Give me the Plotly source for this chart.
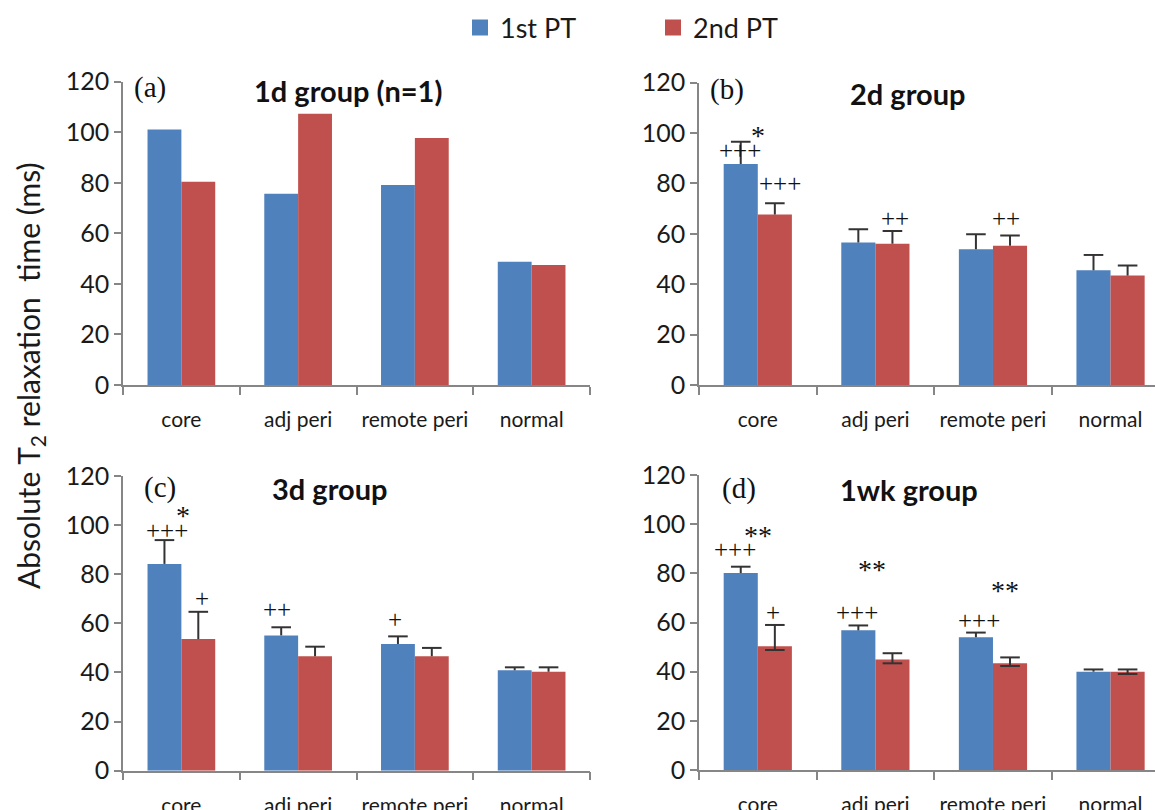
import plotly.graph_objects as go

# ---- data -------------------------------------------------------------
categories = ["core", "adj peri", "remote peri", "normal"]
series_names = ["1st PT", "2nd PT"]

# (a) 1d group, single animal, no error bars
d1_first = [101.1, 75.7, 79.1, 48.8]
d1_second = [80.4, 107.3, 97.7, 47.5]

# (b) 2d group
d2_first = [87.7, 56.5, 53.9, 45.5]
d2_first_sd = [8.8, 5.3, 5.9, 6.1]
d2_second = [67.6, 56.0, 55.2, 43.4]
d2_second_sd = [4.5, 5.1, 4.1, 4.0]

# (c) 3d group
d3_first = [84.2, 55.1, 51.6, 40.9]
d3_first_sd = [9.7, 3.3, 3.1, 1.2]
d3_second = [53.6, 46.6, 46.6, 40.3]
d3_second_sd = [11.1, 3.9, 3.4, 1.8]

# (d) 1wk group
wk1_first = [80.1, 56.8, 54.0, 40.0]
wk1_first_sd = [2.6, 2.0, 1.9, 0.9]
wk1_second = [50.3, 44.9, 43.4, 40.0]
wk1_second_sd = [8.7, 2.6, 2.4, 0.9]
wk1_second_sd_low = [1.5, 1.5, 1.1, 0.95]

# significance marks: (category position, value, label)
marks_b = [(0.0, 99.0, "*"), (-0.15, 93.0, "+++"), (0.19, 80.0, "+++"),
           (1.17, 66.0, "++"), (2.11, 66.0, "++")]
marks_c = [(0.01, 104.0, "*"), (-0.12, 98.0, "+++"), (0.18, 70.0, "+"),
           (0.82, 65.7, "++"), (1.83, 61.4, "+")]
marks_d = [(0.0, 95.5, "**"), (-0.19, 89.5, "+++"), (0.13, 64.2, "+"),
           (0.97, 81.5, "**"), (0.84, 64.2, "+++"),
           (2.1, 73.0, "**"), (1.88, 60.9, "+++")]

panel_letters = ["(a)", "(b)", "(c)", "(d)"]
panel_titles = ["1d group (n=1)", "2d group", "3d group", "1wk group"]

# ---- style ------------------------------------------------------------
BLUE = "#4F81BD"
RED = "#C0504D"
AXIS = "#868686"
ERR = "#333333"
TXT = "#1a1a1a"
SANS = "Lato"
SERIF = "Liberation Serif"
W, H = 1155, 810

BAR_W = 0.29
OFFSET = BAR_W / 2

panels = [
    dict(first=d1_first, second=d1_second, first_sd=None, second_sd=None,
         second_low=None, marks=[],
         xdom=(123, 590), xmax=3.5, ydom=(385, 81.7),
         letter=(150, 87.5), title=(348, 90)),
    dict(first=d2_first, second=d2_second, first_sd=d2_first_sd,
         second_sd=d2_second_sd, second_low=None, marks=marks_b,
         xdom=(699, 1155), xmax=3.378, ydom=(385, 82.5),
         letter=(727, 89.5), title=(908, 93)),
    dict(first=d3_first, second=d3_second, first_sd=d3_first_sd,
         second_sd=d3_second_sd, second_low=None, marks=marks_c,
         xdom=(123, 590), xmax=3.5, ydom=(770.7, 476),
         letter=(160, 487.5), title=(329.5, 488)),
    dict(first=wk1_first, second=wk1_second, first_sd=wk1_first_sd,
         second_sd=wk1_second_sd, second_low=wk1_second_sd_low, marks=marks_d,
         xdom=(699, 1155), xmax=3.378, ydom=(770, 475),
         letter=(738.5, 488.5), title=(908.5, 489)),
]

fig = go.Figure()
annotations = []
layout_axes = {}

for i, p in enumerate(panels):
    sfx = "" if i == 0 else str(i + 1)
    xref, yref = "x" + sfx, "y" + sfx
    idx = list(range(len(categories)))

    for vals, sd, low, color, shift in (
        (p["first"], p["first_sd"], None, BLUE, -OFFSET),
        (p["second"], p["second_sd"], p["second_low"], RED, OFFSET),
    ):
        xs = [k + shift for k in idx]
        err = None
        if sd is not None:
            err = dict(type="data", array=sd,
                       arrayminus=low if low is not None else [0] * len(sd),
                       symmetric=False, width=0, thickness=2, color=ERR)
        fig.add_trace(go.Bar(
            x=xs, y=vals, width=BAR_W, marker=dict(color=color, line=dict(width=0)),
            error_y=err, xaxis=xref, yaxis=yref, showlegend=False,
            hoverinfo="skip"))
        if sd is not None:
            cap_x = list(xs)
            cap_y = [v + e for v, e in zip(vals, sd)]
            if low is not None:
                cap_x += xs
                cap_y += [v - e for v, e in zip(vals, low)]
            fig.add_trace(go.Scatter(
                x=cap_x, y=cap_y, mode="markers",
                marker=dict(symbol="line-ew", size=14, color=ERR,
                            line=dict(width=2, color=ERR)),
                xaxis=xref, yaxis=yref, showlegend=False, hoverinfo="skip"))

    x0, x1 = p["xdom"]
    yb, yt = p["ydom"]
    layout_axes["xaxis" + sfx] = dict(
        domain=[x0 / W, x1 / W], range=[-0.5, p["xmax"]], anchor=yref,
        tickmode="array", tickvals=idx, ticktext=categories, ticks="",
        ticklabelstandoff=15, tickfont=dict(family=SANS, size=21, color=TXT),
        showline=True, linecolor=AXIS, linewidth=1.5, showgrid=False,
        zeroline=False, fixedrange=True,
        minor=dict(tickmode="linear", tick0=-0.5, dtick=1, ticks="outside",
                   ticklen=8, tickwidth=1.5, tickcolor=AXIS, showgrid=False))
    layout_axes["yaxis" + sfx] = dict(
        domain=[1 - yb / H, 1 - yt / H], range=[0, 120], anchor=xref,
        tickmode="linear", tick0=0, dtick=20, ticks="outside", ticklen=7,
        tickwidth=1.5, tickcolor=AXIS, showline=True, linecolor=AXIS,
        linewidth=1.5, showgrid=False, zeroline=False, fixedrange=True,
        tickfont=dict(family=SANS, size=25, color=TXT))

    for mx, my, mt in p["marks"]:
        annotations.append(dict(
            x=mx, y=my, xref=xref, yref=yref, text=mt, showarrow=False,
            xanchor="center", yanchor="middle",
            font=dict(family=SERIF, size=28 if "*" in mt else 25, color="#111")))

    lx, ly = p["letter"]
    annotations.append(dict(
        x=lx / W, y=1 - ly / H, xref="paper", yref="paper",
        text=panel_letters[i], showarrow=False, xanchor="center",
        yanchor="middle", font=dict(family=SERIF, size=29, color="#111")))
    tx, ty = p["title"]
    annotations.append(dict(
        x=tx / W, y=1 - ty / H, xref="paper", yref="paper",
        text="<b>" + panel_titles[i] + "</b>", showarrow=False,
        xanchor="center", yanchor="middle",
        font=dict(family=SANS, size=29, color="#111")))

# shared y-axis title
annotations.append(dict(
    x=30 / W, y=1 - 376 / H, xref="paper", yref="paper",
    text="Absolute T<sub>2</sub> relaxation  time (ms)", textangle=-90,
    showarrow=False, xanchor="center", yanchor="middle",
    font=dict(family=SANS, size=30, color=TXT)))

# legend entries
for name, color in zip(series_names, (BLUE, RED)):
    fig.add_trace(go.Scatter(
        x=[None], y=[None], mode="markers", name=name,
        marker=dict(symbol="square", size=16, color=color),
        xaxis="x", yaxis="y", showlegend=True))

fig.update_layout(
    width=W, height=H,
    margin=dict(l=0, r=0, t=0, b=0, pad=0, autoexpand=False),
    paper_bgcolor="white", plot_bgcolor="white",
    barmode="overlay", showlegend=True,
    legend=dict(orientation="h", x=460 / W, xanchor="left",
                y=1 - 28 / H, yanchor="middle",
                font=dict(family=SANS, size=27, color=TXT),
                entrywidth=148, itemclick=False, itemdoubleclick=False,
                bgcolor="rgba(0,0,0,0)"),
    annotations=annotations,
    **layout_axes)

fig.write_html("out.html")
